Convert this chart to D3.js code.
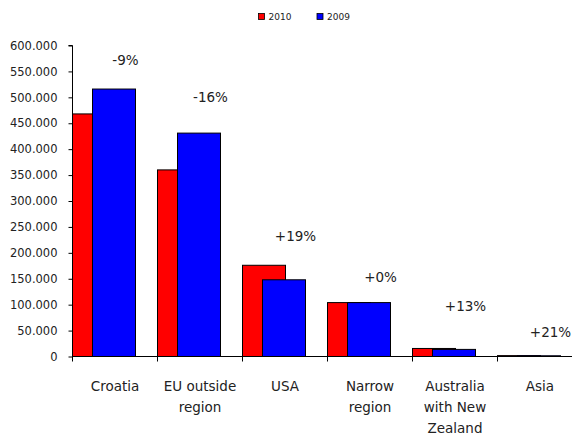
<!DOCTYPE html>
<html>
<head>
<meta charset="utf-8">
<script src="https://cdn.jsdelivr.net/npm/d3@7"></script>
<style>
  html, body { margin: 0; padding: 0; background: #fff; }
  svg { display: block; font-family: "DejaVu Sans", sans-serif; }
</style>
</head>
<body>
<svg id="chart" width="572" height="434"></svg>
<script>
const categories = ["Croatia", "EU outside region", "USA", "Narrow region", "Australia with New Zealand", "Asia"];
const categoryLines = [["Croatia"], ["EU outside", "region"], ["USA"], ["Narrow", "region"], ["Australia", "with New", "Zealand"], ["Asia"]];
const seriesNames = ["2010", "2009"];
const values2010 = [468000, 360000, 176000, 104000, 15500, 1700];
const values2009 = [516000, 431000, 148000, 104000, 13700, 1400];
const changeLabels = ["-9%", "-16%", "+19%", "+0%", "+13%", "+21%"];
const changeLabelAt = [571000, 498000, 231000, 151000, 95000, 46000];
const yTicks = [0, 50000, 100000, 150000, 200000, 250000, 300000, 350000, 400000, 450000, 500000, 550000, 600000];

const colors = { "2010": "#ff0000", "2009": "#0000ff" };
const svg = d3.select("#chart");

const x0 = 72.5, bandW = 85;
const x = d3.scaleBand().domain(categories).range([x0, x0 + bandW * categories.length]).paddingInner(0).paddingOuter(0);
const y = d3.scaleLinear().domain([0, 600000]).range([356.5, 45.5]);
const barW = 43, barOffset = 20;

const fmt = v => d3.format(",")(v).replace(/,/g, ".");

// Y axis
const yAxis = d3.axisLeft(y).tickValues(yTicks).tickFormat(fmt).tickSize(4).tickPadding(11);
const gy = svg.append("g").attr("transform", `translate(${x0},0)`).call(yAxis);
gy.select(".domain").attr("stroke", "#000").attr("d", `M-4,${y(600000)}H0V${y(0)}`);
gy.selectAll(".tick line").attr("stroke", "#000");
gy.selectAll(".tick text").attr("font-size", "11.5px").attr("fill", "#222").attr("font-family", "DejaVu Sans, sans-serif");

// Bars
const g = svg.append("g");
categories.forEach((c, i) => {
  const bx = x(c);
  g.append("rect")
    .attr("x", bx).attr("y", y(values2010[i]))
    .attr("width", barW).attr("height", y(0) - y(values2010[i]))
    .attr("fill", colors["2010"]).attr("stroke", "#000").attr("stroke-width", 1);
  g.append("rect")
    .attr("x", bx + barOffset).attr("y", y(values2009[i]))
    .attr("width", barW).attr("height", y(0) - y(values2009[i]))
    .attr("fill", colors["2009"]).attr("stroke", "#000").attr("stroke-width", 1);
  g.append("text")
    .attr("x", bx + 53).attr("y", y(changeLabelAt[i]))
    .attr("text-anchor", "middle").attr("dominant-baseline", "middle")
    .attr("font-size", "13.5px").attr("fill", "#222")
    .text(changeLabels[i]);
});

// X axis
const xa = svg.append("g");
xa.append("line").attr("x1", x0).attr("x2", 572).attr("y1", y(0)).attr("y2", y(0)).attr("stroke", "#000");
categories.forEach((c, i) => {
  xa.append("line").attr("x1", x(c)).attr("x2", x(c)).attr("y1", y(0)).attr("y2", y(0) + 5).attr("stroke", "#000");
  const t = xa.append("text").attr("text-anchor", "middle").attr("font-size", "13.5px").attr("fill", "#222");
  categoryLines[i].forEach((ln, j) => {
    t.append("tspan").attr("x", x(c) + x.bandwidth() / 2).attr("y", 390.5 + j * 21).text(ln);
  });
});

// Legend
const legend = svg.append("g");
const legX = [258.5, 317];
seriesNames.forEach((s, i) => {
  legend.append("rect").attr("x", legX[i]).attr("y", 13.5).attr("width", 6).attr("height", 6)
    .attr("fill", colors[s]).attr("stroke", "#000").attr("stroke-width", 0.8);
  legend.append("text").attr("x", legX[i] + 10).attr("y", 20).attr("font-size", "9px").attr("fill", "#222").text(s);
});
</script>
</body>
</html>
